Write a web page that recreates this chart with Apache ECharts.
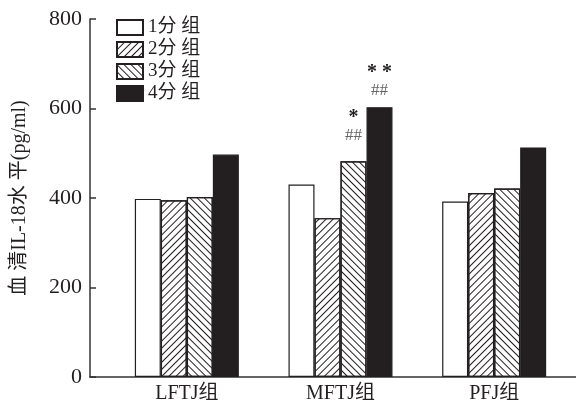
<!DOCTYPE html>
<html><head><meta charset="utf-8">
<script src="https://cdn.jsdelivr.net/npm/echarts@6/dist/echarts.min.js"></script>
<style>html,body{margin:0;padding:0;background:#fff}#c{width:576px;height:405px}</style>
</head><body><div id="c"></div>
<script>
const categories = ['LFTJ组', 'MFTJ组', 'PFJ组'];
const seriesNames = ['1分 组', '2分 组', '3分 组', '4分 组'];
const g1 = [398, 430, 392];
const g2 = [395, 355, 411];
const g3 = [402, 482, 421];
const g4 = [497, 603, 513];
const star3 = ['', '*', ''];
const hash3 = ['', '##', ''];
const star4 = ['', '* *', ''];
const hash4 = ['', '##', ''];
const yTicks = [0, 200, 400, 600, 800];

const FONT = "'Liberation Serif', 'Noto Sans CJK SC', serif";
const EDGE = '#231f20';

function mk(vals, stars, hashes, dist) {
  return vals.map((v, i) => {
    if (!stars || !stars[i]) return v;
    return {
      value: v,
      label: {
        show: true, position: 'top', distance: dist,
        formatter: '{s|' + stars[i] + '}\n{h|' + hashes[i] + '}',
        rich: {
          s: { fontFamily: FONT, fontSize: 20, color: '#231f20', fontWeight: 'bold', lineHeight: 17 },
          h: { fontFamily: FONT, fontSize: 17, color: '#666', lineHeight: 19 }
        }
      }
    };
  });
}

const hatch = (rot) => ({
  symbol: 'rect', symbolSize: 1, dashArrayX: [1, 0], dashArrayY: [1, 3.6], rotation: rot, color: '#231f20'
});

const chart = echarts.init(document.getElementById('c'), null, { renderer: 'canvas' });
const base = {
  type: 'bar', xAxisIndex: 0, yAxisIndex: 0, barWidth: 26, barGap: '0%',
  animation: false
};
chart.setOption({
  animation: false,
  grid: [
    { left: 110, right: 5, top: 19, bottom: 28 },
    { left: 90, right: 0, top: 19, bottom: 28 }
  ],
  legend: {
    orient: 'vertical', left: 111, top: 13, itemWidth: 26, itemHeight: 15, itemGap: 3,
    icon: 'rect',
    textStyle: { fontFamily: FONT, fontSize: 19, color: '#231f20', lineHeight: 19 },
    data: seriesNames
  },
  xAxis: [
    { type: 'category', gridIndex: 0, data: categories,
      axisLine: { show: false }, axisTick: { show: false },
      axisLabel: { fontFamily: FONT, fontSize: 20, color: '#231f20', margin: 7 } },
    { type: 'value', gridIndex: 1, min: 0, max: 1,
      axisLine: { show: true, lineStyle: { color: '#333', width: 1.5 } },
      axisTick: { show: false }, axisLabel: { show: false }, splitLine: { show: false } }
  ],
  yAxis: [
    { type: 'value', gridIndex: 0, min: yTicks[0], max: yTicks[yTicks.length - 1], interval: 200, show: false },
    { type: 'value', gridIndex: 1, min: yTicks[0], max: yTicks[yTicks.length - 1], interval: 200,
      name: '血 清IL-18水 平(pg/ml)', nameLocation: 'middle', nameGap: 60, nameRotate: 90,
      nameTextStyle: { fontFamily: FONT, fontSize: 20, color: '#231f20' },
      axisLine: { show: true, lineStyle: { color: '#333', width: 1.5 } },
      axisTick: { show: true, inside: true, length: 6, lineStyle: { color: '#333', width: 1.5 } },
      axisLabel: { fontFamily: FONT, fontSize: 22, color: '#231f20', margin: 8 },
      splitLine: { show: false } }
  ],
  series: [
    Object.assign({}, base, { name: seriesNames[0], data: mk(g1),
      itemStyle: { color: '#fff', borderColor: EDGE, borderWidth: 1.2 } }),
    Object.assign({}, base, { name: seriesNames[1], data: mk(g2),
      itemStyle: { color: '#fff', borderColor: EDGE, borderWidth: 1.2, decal: hatch(-Math.PI / 4) } }),
    Object.assign({}, base, { name: seriesNames[2], data: mk(g3, star3, hash3, 16),
      itemStyle: { color: '#fff', borderColor: EDGE, borderWidth: 1.2, decal: hatch(Math.PI / 4) } }),
    Object.assign({}, base, { name: seriesNames[3], data: mk(g4, star4, hash4, 7),
      itemStyle: { color: EDGE, borderColor: EDGE, borderWidth: 1.2 } })
  ]
});
</script></body></html>
